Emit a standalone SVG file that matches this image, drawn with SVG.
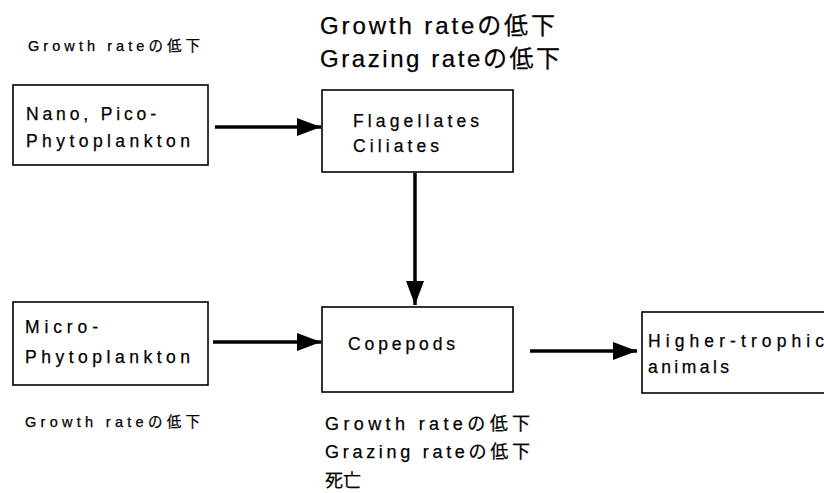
<svg xmlns="http://www.w3.org/2000/svg" width="824" height="493" viewBox="0 0 824 493">
<style>
text{font-family:"Liberation Sans","Noto Sans CJK JP",sans-serif;fill:#000;stroke:#000;stroke-width:0.25}
.box{fill:#fff;stroke:#000;stroke-width:1.6}
.lbl{font-size:17.5px}
.sm{font-size:14.5px}
.big{font-size:24px}
.md{font-size:18px}
.conn{stroke:#000;stroke-width:3.5;fill:none}
</style>
<defs>
<marker id="ah" viewBox="0 0 24 18" refX="24" refY="9" markerWidth="24" markerHeight="18" markerUnits="userSpaceOnUse" orient="auto">
<path d="M0,0 L24,9 L0,18 Z" fill="#000"/>
</marker>
</defs>
<rect width="824" height="493" fill="#fff"/>
<g id="connectors">
<line class="conn" x1="215" y1="127" x2="321" y2="127" marker-end="url(#ah)"/>
<line class="conn" x1="415" y1="173" x2="415" y2="305" marker-end="url(#ah)"/>
<line class="conn" x1="213" y1="342" x2="321" y2="342" marker-end="url(#ah)"/>
<line class="conn" x1="530" y1="351" x2="637" y2="351" marker-end="url(#ah)"/>
</g>
<g id="note-nano">
<text class="sm" x="28" y="51" textLength="172" lengthAdjust="spacing">Growth rateの低下</text>
</g>
<g id="node-nano">
<rect class="box" x="13" y="85" width="195" height="80"/>
<text class="lbl" x="26" y="120" textLength="130" lengthAdjust="spacing">Nano, Pico-</text>
<text class="lbl" x="26" y="147" textLength="164" lengthAdjust="spacing">Phytoplankton</text>
</g>
<g id="note-flag">
<text class="big" x="320" y="34" textLength="235" lengthAdjust="spacing">Growth rateの低下</text>
<text class="big" x="320" y="67" textLength="240" lengthAdjust="spacing">Grazing rateの低下</text>
</g>
<g id="node-flag">
<rect class="box" x="322" y="90" width="191" height="82"/>
<text class="lbl" x="353" y="127" textLength="126" lengthAdjust="spacing">Flagellates</text>
<text class="lbl" x="353" y="152" textLength="86" lengthAdjust="spacing">Ciliates</text>
</g>
<g id="node-micro">
<rect class="box" x="13" y="302" width="195" height="83"/>
<text class="lbl" x="25" y="333" textLength="73" lengthAdjust="spacing">Micro-</text>
<text class="lbl" x="25" y="363" textLength="165" lengthAdjust="spacing">Phytoplankton</text>
</g>
<g id="note-micro">
<text class="sm" x="25" y="427" textLength="175" lengthAdjust="spacing">Growth rateの低下</text>
</g>
<g id="node-cope">
<rect class="box" x="322" y="307" width="191" height="85"/>
<text class="lbl" x="348" y="350" textLength="107" lengthAdjust="spacing">Copepods</text>
</g>
<g id="note-cope">
<text class="md" x="325" y="430" textLength="205" lengthAdjust="spacing">Growth rateの低下</text>
<text class="md" x="325" y="458" textLength="205" lengthAdjust="spacing">Grazing rateの低下</text>
<text class="md" x="325" y="487">死亡</text>
</g>
<g id="node-higher">
<rect class="box" x="642" y="312" width="190" height="81"/>
<text class="lbl" x="648" y="347" textLength="176" lengthAdjust="spacing">Higher-trophic</text>
<text class="lbl" x="648" y="373" textLength="81" lengthAdjust="spacing">animals</text>
</g>
</svg>
